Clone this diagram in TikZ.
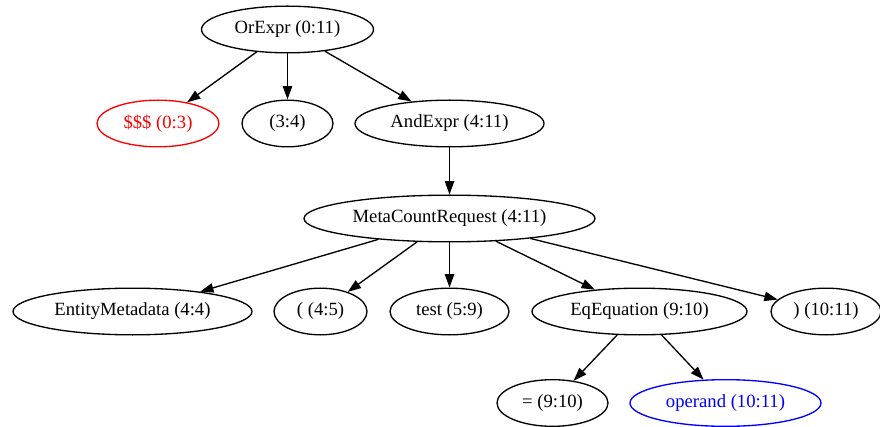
\documentclass[tikz,border=0pt]{standalone}
\usepackage{fontspec}
\setmainfont{Liberation Serif}
\usetikzlibrary{shapes.geometric,arrows.meta}
\begin{document}
\begin{tikzpicture}[x=0.75pt,y=-0.75pt,
  tnode/.style={draw, ellipse, line width=1pt, inner sep=0pt, minimum height=35pt,
    font=\fontsize{14}{16}\selectfont},
  redn/.style={tnode, draw=red, text=red},
  bluen/.style={tnode, draw=blue, text=blue},
  tedge/.style={line width=1pt, -{Triangle[length=10pt,width=7pt]}}]
\useasboundingbox (0,0) rectangle (880,427);
\node[tnode, minimum width=129pt] (or) at (287.5,29.5) {OrExpr (0:11)};
\node[redn, minimum width=91.5pt] (dol) at (158,123.5) {\$\$\$ (0:3)};
\node[tnode, minimum width=68.25pt] (p34) at (287.5,123.5) {(3:4)};
\node[tnode, minimum width=141.75pt] (and) at (449.5,123.5) {AndExpr (4:11)};
\node[tnode, minimum width=218.25pt] (meta) at (449.5,218.5) {MetaCountRequest (4:11)};
\node[tnode, minimum width=179.25pt] (ent) at (132.5,311.5) {EntityMetadata (4:4)};
\node[tnode, minimum width=69.75pt] (lp) at (320.5,311.5) {( (4:5)};
\node[tnode, minimum width=89.25pt] (test) at (449.5,311.5) {test (5:9)};
\node[tnode, minimum width=161.25pt] (eq) at (639.5,311.5) {EqEquation (9:10)};
\node[tnode, minimum width=82.5pt] (rp) at (826,311.5) {) (10:11)};
\node[tnode, minimum width=83.25pt] (eqs) at (552.5,403) {= (9:10)};
\node[bluen, minimum width=143.25pt] (oper) at (725.5,403) {operand (10:11)};
\draw[tedge] (or) -- (dol);
\draw[tedge] (or) -- (p34);
\draw[tedge] (or) -- (and);
\draw[tedge] (and) -- (meta);
\draw[tedge] (meta) -- (ent);
\draw[tedge] (meta) -- (lp);
\draw[tedge] (meta) -- (test);
\draw[tedge] (meta) -- (eq);
\draw[tedge] (meta) -- (rp);
\draw[tedge] (eq) -- (eqs);
\draw[tedge] (eq) -- (oper);
\end{tikzpicture}
\end{document}
